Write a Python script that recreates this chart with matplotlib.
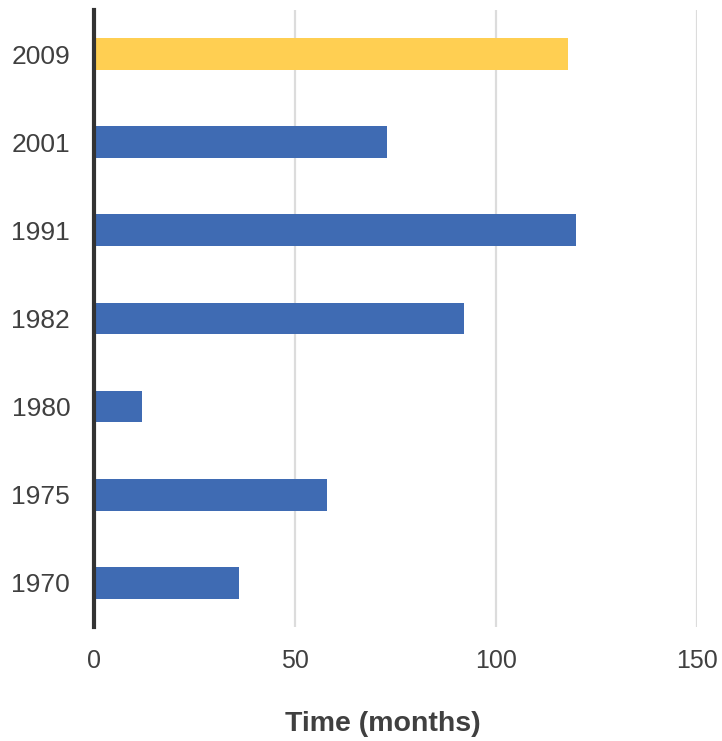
"""Horizontal bar chart: duration of each episode, in months."""

import matplotlib

matplotlib.use("Agg")
import matplotlib.pyplot as plt

# ---------------------------------------------------------------------------
# Data
# ---------------------------------------------------------------------------
years = ["1970", "1975", "1980", "1982", "1991", "2001", "2009"]
months = [36, 58, 12, 92, 120, 73, 118]
highlight = "2009"

x_ticks = [0, 50, 100, 150]

BLUE = "#3F6BB3"
YELLOW = "#FFCF52"
TEXT = "#404040"

plt.rcParams["font.family"] = ["Liberation Sans", "DejaVu Sans"]

fig = plt.figure(figsize=(7.22, 7.41), dpi=100)
ax = fig.add_axes([0.130, 0.154, 0.835, 0.8325])

colors = [YELLOW if y == highlight else BLUE for y in years]
ax.barh(range(len(years)), months, height=0.36, color=colors, zorder=3)

ax.set_xlim(0, 150)
ax.set_ylim(-0.5, len(years) - 0.5)
ax.set_yticks(range(len(years)))
ax.set_yticklabels(years)
ax.set_xticks(x_ticks)

ax.grid(axis="x", color="#dcdcdc", linewidth=1.6, zorder=0)
ax.grid(axis="y", visible=False)

for side in ("top", "right", "bottom"):
    ax.spines[side].set_visible(False)
ax.spines["left"].set_color("#333333")
ax.spines["left"].set_linewidth(3)
ax.spines["left"].set_zorder(4)

ax.tick_params(axis="y", length=0, pad=17, labelsize=19, labelcolor=TEXT)
ax.tick_params(axis="x", length=0, pad=16, labelsize=18, labelcolor=TEXT)

ax.set_xlabel("Time (months)", fontsize=20.5, fontweight="bold", color=TEXT)
ax.xaxis.set_label_coords(0.48, -0.137)

fig.savefig("out.png", dpi=100)
